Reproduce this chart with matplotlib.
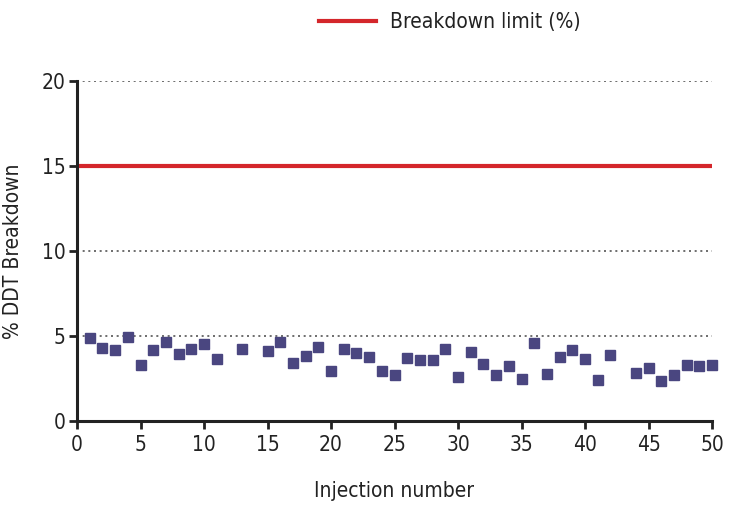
import matplotlib
matplotlib.use("Agg")
import matplotlib.pyplot as plt
from matplotlib.lines import Line2D

injection = [1, 2, 3, 4, 5, 6, 7, 8, 9, 10, 11, 13, 15, 16, 17, 18, 19, 20,
             21, 22, 23, 24, 25, 26, 27, 28, 29, 30, 31, 32, 33, 34, 35, 36,
             37, 38, 39, 40, 41, 42, 44, 45, 46, 47, 48, 49, 50]
breakdown = [4.88, 4.29, 4.18, 4.94, 3.29, 4.18, 4.65, 3.94, 4.24, 4.53, 3.65,
             4.24, 4.12, 4.65, 3.41, 3.82, 4.35, 2.94, 4.24, 4.00, 3.76, 2.94,
             2.71, 3.71, 3.59, 3.59, 4.24, 2.59, 4.06, 3.35, 2.71, 3.24, 2.47,
             4.59, 2.76, 3.76, 4.18, 3.65, 2.41, 3.88, 2.82, 3.12, 2.35, 2.71,
             3.29, 3.24, 3.29]
limit = 15
xticks = [0, 5, 10, 15, 20, 25, 30, 35, 40, 45, 50]
yticks = [0, 5, 10, 15, 20]

plt.rcParams['font.family'] = ['DejaVu Sans']
plt.rcParams['font.stretch'] = 'condensed'

fig = plt.figure(figsize=(7.31, 5.14), dpi=100)
ax = fig.add_axes([77/731, 1-421/514, (712-77)/731, (421-81)/514])

for yv in [5, 10, 20]:
    ax.axhline(yv, color='#555555', lw=1.2, ls=(0, (1.2, 2.2)), zorder=1)
ax.axhline(limit, color='#d4262b', lw=3, zorder=2)
ax.plot(injection, breakdown, ls='none', marker='s', ms=7.5,
        color='#4a4680', zorder=3, clip_on=False)

ax.set_xlim(0, 50)
ax.set_ylim(0, 20)
ax.set_xticks(xticks)
ax.set_yticks(yticks)
for s in ['top', 'right']:
    ax.spines[s].set_visible(False)
for s in ['left', 'bottom']:
    ax.spines[s].set_linewidth(2.2)
    ax.spines[s].set_color('#222222')
ax.tick_params(axis='both', direction='out', length=6, width=2, color='#222222',
               labelsize=15, labelcolor='#222222', pad=4)
ax.tick_params(axis='y', pad=2)
ax.set_xlabel('Injection number', fontsize=15, color='#222222', labelpad=19)
ax.set_ylabel('% DDT Breakdown', fontsize=15, color='#222222', labelpad=14)

handle = Line2D([], [], color='#d4262b', lw=3)
fig.legend([handle], ['Breakdown limit (%)'], loc='center',
           bbox_to_anchor=(450/731, 1-22/514), frameon=False, fontsize=15,
           handlelength=2.7, handletextpad=0.7, labelcolor='#222222')

fig.savefig('out.png', dpi=100)
